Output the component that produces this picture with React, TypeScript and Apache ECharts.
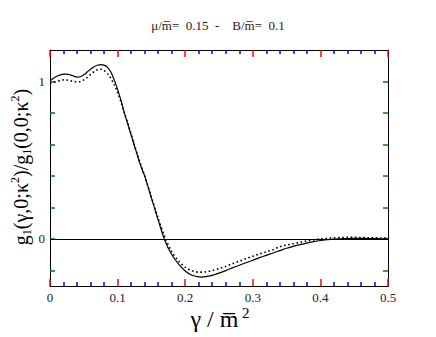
import React, { useEffect, useRef } from "react";
import * as echarts from "echarts";

const gammaSolid = [0, 0.005, 0.01, 0.015, 0.02, 0.025, 0.03, 0.035, 0.04, 0.045, 0.05, 0.055, 0.06, 0.065, 0.07, 0.075, 0.08, 0.085, 0.09, 0.095, 0.1, 0.105, 0.11, 0.115, 0.12, 0.125, 0.13, 0.135, 0.14, 0.15, 0.16, 0.17, 0.18, 0.19, 0.2, 0.21, 0.22, 0.225, 0.23, 0.24, 0.25, 0.26, 0.27, 0.28, 0.29, 0.3, 0.31, 0.32, 0.33, 0.34, 0.35, 0.36, 0.37, 0.38, 0.39, 0.4, 0.41, 0.42, 0.43, 0.44, 0.45, 0.46, 0.47, 0.48, 0.49, 0.5];
const valuesSolid = [1.005, 1.02, 1.033, 1.042, 1.047, 1.047, 1.042, 1.034, 1.028, 1.03, 1.042, 1.06, 1.078, 1.093, 1.103, 1.107, 1.104, 1.09, 1.06, 1.01, 0.95, 0.88, 0.8, 0.73, 0.66, 0.59, 0.52, 0.455, 0.4, 0.26, 0.12, -0.012, -0.1, -0.16, -0.205, -0.232, -0.242, -0.243, -0.24, -0.232, -0.218, -0.202, -0.185, -0.168, -0.152, -0.136, -0.12, -0.105, -0.09, -0.075, -0.06, -0.048, -0.037, -0.027, -0.018, -0.011, -0.006, -0.002, 0.0, 0.002, 0.003, 0.003, 0.002, 0.001, 0.0, 0.0];

const gammaDotted = [0, 0.005, 0.01, 0.015, 0.02, 0.025, 0.03, 0.035, 0.04, 0.045, 0.05, 0.055, 0.06, 0.065, 0.07, 0.075, 0.08, 0.085, 0.09, 0.095, 0.1, 0.105, 0.11, 0.115, 0.12, 0.125, 0.13, 0.135, 0.14, 0.15, 0.16, 0.17, 0.18, 0.19, 0.2, 0.21, 0.22, 0.23, 0.24, 0.25, 0.26, 0.27, 0.28, 0.29, 0.3, 0.31, 0.32, 0.33, 0.34, 0.35, 0.36, 0.37, 0.38, 0.39, 0.4, 0.41, 0.42, 0.43, 0.44, 0.45, 0.46, 0.47, 0.48, 0.49, 0.5];
const valuesDotted = [0.99, 0.995, 1.0, 1.006, 1.01, 1.009, 1.005, 1.0, 0.998, 1.0, 1.01, 1.026, 1.045, 1.062, 1.074, 1.078, 1.07, 1.05, 1.02, 0.98, 0.93, 0.87, 0.8, 0.735, 0.665, 0.595, 0.525, 0.46, 0.4, 0.265, 0.13, 0.01, -0.08, -0.14, -0.18, -0.203, -0.212, -0.21, -0.202, -0.19, -0.175, -0.158, -0.142, -0.126, -0.111, -0.097, -0.083, -0.069, -0.05, -0.04, -0.031, -0.022, -0.014, -0.007, -0.001, 0.003, 0.006, 0.008, 0.009, 0.009, 0.008, 0.007, 0.006, 0.005, 0.004];

const yTickValues = [-0.2, 0, 0.2, 0.4, 0.6, 0.8, 1.0];
const yLabelValues = [0, 1];

const titleText = "\u03bc/m\u0305=  0.15  -    B/m\u0305=  0.1";
const FONT = "Liberation Serif";

export default function App() {
  const ref = useRef<HTMLDivElement>(null);
  useEffect(() => {
    if (!ref.current) return;
    const chart = echarts.init(ref.current, undefined, { renderer: "svg" });
    chart.setOption({
      animation: false,
      grid: { left: 50, right: 48, top: 50, bottom: 51 },
      xAxis: [
        {
          type: "value", min: 0, max: 0.5, interval: 0.1, position: "bottom",
          axisLine: { show: true, onZero: false, lineStyle: { color: "#000", width: 1 } },
          splitLine: { show: false },
          axisTick: { show: true, inside: true, length: 7, lineStyle: { color: "red", width: 1.5 } },
          minorTick: { show: true, splitNumber: 5, length: 4, lineStyle: { color: "blue", width: 1.5 } },
          axisLabel: { show: true, margin: 5, fontFamily: FONT, fontSize: 13, color: "#222", showMaxLabel: true },
        },
        {
          type: "value", min: 0, max: 0.5, interval: 0.1, position: "top",
          axisLine: { show: true, onZero: false, lineStyle: { color: "#000", width: 1 } },
          splitLine: { show: false },
          axisTick: { show: true, inside: true, length: 7, lineStyle: { color: "red", width: 1.5 } },
          minorTick: { show: true, splitNumber: 5, length: 4, lineStyle: { color: "blue", width: 1.5 } },
          axisLabel: { show: false },
        },
      ],
      yAxis: [
        {
          type: "value", min: -0.3, max: 1.2, position: "left",
          axisLine: { show: true, onZero: false, lineStyle: { color: "#000", width: 1 } },
          splitLine: { show: false },
          axisTick: { show: true, inside: true, length: 5, customValues: yTickValues, lineStyle: { color: "green", width: 1.5 } },
          axisLabel: { show: true, customValues: yLabelValues, margin: 5, fontFamily: FONT, fontSize: 13, color: "#222" },
        },
        {
          type: "value", min: -0.3, max: 1.2, position: "right",
          axisLine: { show: true, onZero: false, lineStyle: { color: "#000", width: 1 } },
          splitLine: { show: false },
          axisTick: { show: true, inside: true, length: 5, customValues: yTickValues, lineStyle: { color: "green", width: 1.5 } },
          axisLabel: { show: false },
        },
      ],
      series: [
        {
          type: "line",
          data: gammaSolid.map((g, i) => [g, valuesSolid[i]]),
          showSymbol: false,
          smooth: 0.3,
          lineStyle: { color: "#000", width: 1.2 },
          markLine: {
            silent: true,
            symbol: "none",
            label: { show: false },
            lineStyle: { color: "#000", width: 1, type: "solid" },
            data: [{ yAxis: 0 }],
          },
        },
        {
          type: "line",
          data: gammaDotted.map((g, i) => [g, valuesDotted[i]]),
          showSymbol: false,
          smooth: 0.3,
          lineStyle: { color: "#000", width: 1.6, type: [1.6, 2.6] },
        },
      ],
      graphic: [
        {
          type: "text",
          x: 218,
          y: 25,
          style: { text: titleText, fontFamily: FONT, fontSize: 13, fill: "#222", align: "center", verticalAlign: "middle" },
        },
        {
          type: "text",
          x: 220,
          y: 318,
          style: {
            text: "{a|\u03b3 / m\u0305}{p| 2}",
            align: "center",
            verticalAlign: "middle",
            rich: {
              a: { fontFamily: FONT, fontSize: 24, fill: "#000", lineHeight: 26, verticalAlign: "bottom" },
              p: { fontFamily: FONT, fontSize: 15, fill: "#000", lineHeight: 15, verticalAlign: "top" },
            },
          },
        },
        {
          type: "text",
          x: 21,
          y: 167,
          rotation: Math.PI / 2,
          style: {
            text: "{a|g}{s|1}{a|(\u03b3,0;\u03ba}{p|2}{a|)/g}{s|1}{a|(0,0;\u03ba}{p|2}{a|)}",
            align: "center",
            verticalAlign: "middle",
            rich: {
              a: { fontFamily: FONT, fontSize: 20, fill: "#000", lineHeight: 24 },
              s: { fontFamily: FONT, fontSize: 12, fill: "#000", lineHeight: 12, verticalAlign: "bottom" },
              p: { fontFamily: FONT, fontSize: 12, fill: "#000", lineHeight: 12, verticalAlign: "top" },
            },
          },
        },
      ],
    });
    return () => chart.dispose();
  }, []);
  return <div ref={ref} style={{ width: 436, height: 337, position: "absolute", left: 0, top: 0 }} />;
}
